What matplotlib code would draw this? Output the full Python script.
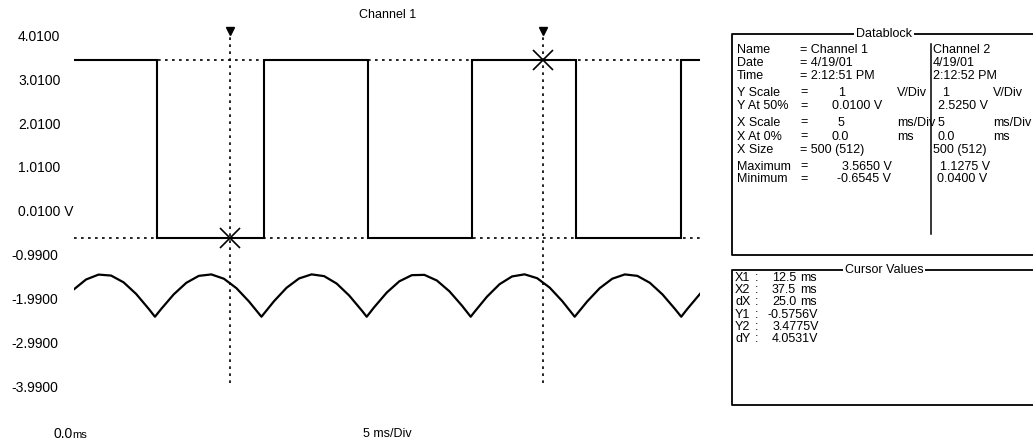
import matplotlib
matplotlib.use("Agg")
import matplotlib.pyplot as plt

plt.rcParams['font.family'] = ['Liberation Sans Narrow', 'Liberation Sans', 'DejaVu Sans']

# channel 1: square wave, edge times (ms) and level after each edge (V)
ch1_t = [0, 6.7, 15.2, 23.5, 31.8, 40.1, 48.5, 50.0]
ch1_v = [3.49, -0.58, 3.49, -0.58, 3.49, -0.58, 3.49, 3.49]

# channel 2: rectified sine, sampled off the trace (ms, V)
ch2_t = [0, 1, 2, 3, 4, 5, 6, 6.5,
         7, 8, 9, 10, 11, 12, 13, 14, 15,
         16, 17, 18, 19, 20, 21, 22, 23, 23.4,
         24, 25, 26, 27, 28, 29, 30, 31, 31.7,
         32, 33, 34, 35, 36, 37, 38, 39, 40,
         41, 42, 43, 44, 45, 46, 47, 48, 48.5,
         49, 50]
ch2_v = [0.758, 0.990, 1.102, 1.080, 0.925, 0.660, 0.321, 0.14,
         0.318, 0.651, 0.914, 1.073, 1.106, 1.008, 0.793, 0.490, 0.14,
         0.494, 0.800, 1.014, 1.107, 1.067, 0.898, 0.625, 0.285, 0.14,
         0.358, 0.692, 0.948, 1.089, 1.096, 0.967, 0.721, 0.394, 0.14,
         0.250, 0.598, 0.882, 1.060, 1.108, 1.020, 0.806, 0.499, 0.14,
         0.490, 0.793, 1.008, 1.106, 1.073, 0.914, 0.651, 0.318, 0.14,
         0.322, 0.662]

# screen centre of each channel (Y At 50%)
ch1_center = 0.0100
ch2_center = 2.5250

# y grid labels (V)
y_ticks = [4.01, 3.01, 2.01, 1.01, 0.01, -0.99, -1.99, -2.99, -3.99]
y_labels = ['4.0100', '3.0100', '2.0100', '1.0100', '0.0100 V',
            '-0.9900', '-1.9900', '-2.9900', '-3.9900']

# cursors
x1, x2 = 12.5, 37.5
y1, y2 = -0.5756, 3.4775

# datablock rows: label, ch1 cells, ch2 cells  (cell = (text, x px))
datablock = [
    ('Name',      [('= Channel 1', 800)], [('Channel 2', 933)]),
    ('Date',      [('= 4/19/01', 800)], [('4/19/01', 933)]),
    ('Time',      [('= 2:12:51 PM', 800)], [('2:12:52 PM', 933)]),
    ('Y Scale',   [('=', 800), ('1', 838), ('V/Div', 897)], [('1', 942), ('V/Div', 993)]),
    ('Y At 50%',  [('=', 800), ('0.0100 V', 832)], [('2.5250 V', 938)]),
    ('X Scale',   [('=', 800), ('5', 838), ('ms/Div', 897)], [('5', 938), ('ms/Div', 993)]),
    ('X At 0%',   [('=', 800), ('0.0', 832), ('ms', 897)], [('0.0', 938), ('ms', 993)]),
    ('X Size',    [('= 500 (512)', 800)], [('500 (512)', 933)]),
    ('Maximum',   [('=', 800), ('3.5650 V', 842)], [('1.1275 V', 940)]),
    ('Minimum',   [('=', 800), ('-0.6545 V', 837)], [('0.0400 V', 937)]),
]
datablock_y = [50, 62.5, 76, 92.5, 106, 122.5, 136.5, 150, 166.5, 179.5]

W, H = 1033, 447
fig = plt.figure(figsize=(W / 100, H / 100), dpi=100)

# scope screen
ax = fig.add_axes([73.5 / W, (H - 387.5) / H, 626.5 / W, 350.5 / H])
ax.set_xlim(0, 50)
ax.set_ylim(-3.99, 4.01)
ax.axis('off')

ch2_disp = [v - ch2_center + ch1_center for v in ch2_v]
ax.plot(ch1_t, ch1_v, drawstyle='steps-post', color='black', lw=1.5,
        solid_joinstyle='miter')
ax.plot(ch2_t, ch2_disp, color='black', lw=1.6)

dots = (0, (1.6, 2.6))
ax.axhline(y1, color='black', lw=1.2, ls=dots)
ax.axhline(y2, color='black', lw=1.2, ls=dots)
for xc in (x1, x2):
    ax.plot([xc, xc], [-3.89, 4.08], color='black', lw=1.2, ls=dots, clip_on=False)
    ax.plot(xc, 4.14, marker='v', ms=6, color='black', clip_on=False)
ax.plot([x1, x2], [y1, y2], ls='none', marker='x', ms=14, mew=1.2, color='black')

ytr = ax.get_yaxis_transform()
for val, lab in zip(y_ticks, y_labels):
    xpos = (11 - 73.5) / 626.5 if lab.startswith('-') else (18 - 73.5) / 626.5
    ax.text(xpos, val, lab, transform=ytr, ha='left', va='center',
            fontsize=10, clip_on=False)

# overlay in pixel coords for the panels and captions
ov = fig.add_axes([0, 0, 1, 1])
ov.set_xlim(0, W)
ov.set_ylim(H, 0)
ov.axis('off')
ov.patch.set_visible(False)

ov.text(388, 15, 'Channel 1', ha='center', va='center', fontsize=9)
ov.text(53, 434, '0.0', ha='left', va='center', fontsize=10)
ov.text(72, 435, 'ms', ha='left', va='center', fontsize=8)
ov.text(363, 434, '5 ms/Div', ha='left', va='center', fontsize=9)

white = dict(facecolor='white', edgecolor='none', pad=1.5)
fs = 9

# datablock panel
ov.plot([1045, 732, 732, 1045], [34, 34, 255, 255], color='black', lw=1.3)
ov.plot([931, 931], [44, 234], color='black', lw=1.1)
ov.text(884, 34, 'Datablock', ha='center', va='center', fontsize=fs, bbox=white)
for (lab, c1, c2), yy in zip(datablock, datablock_y):
    ov.text(737, yy, lab, ha='left', va='center', fontsize=fs)
    for txt, xx in c1 + c2:
        ov.text(xx, yy, txt, ha='left', va='center', fontsize=fs)

# cursor values panel
ov.plot([1045, 732, 732, 1045], [270, 270, 405, 405], color='black', lw=1.3)
ov.text(884, 270, 'Cursor Values', ha='center', va='center', fontsize=fs, bbox=white)
cursor_rows = [
    ('X1', f'{x1:.1f}', 'ms', 772),
    ('X2', f'{x2:.1f}', 'ms', 772),
    ('dX', f'{x2 - x1:.1f}', 'ms', 772),
    ('Y1', f'{y1:.4f}V', '', 767),
    ('Y2', f'{y2:.4f}V', '', 773),
    ('dY', f'{y2 - y1:.4f}V', '', 772),
]
cursor_y = [278, 290, 302, 315, 327, 339]
for (name, val, unit, xv), yy in zip(cursor_rows, cursor_y):
    ov.text(735, yy, name, ha='left', va='center', fontsize=fs)
    ov.text(755, yy, ':', ha='left', va='center', fontsize=fs)
    ov.text(xv, yy, val, ha='left', va='center', fontsize=fs)
    if unit:
        ov.text(800, yy, unit, ha='left', va='center', fontsize=fs)

fig.savefig('out.png', dpi=100, facecolor='white')
